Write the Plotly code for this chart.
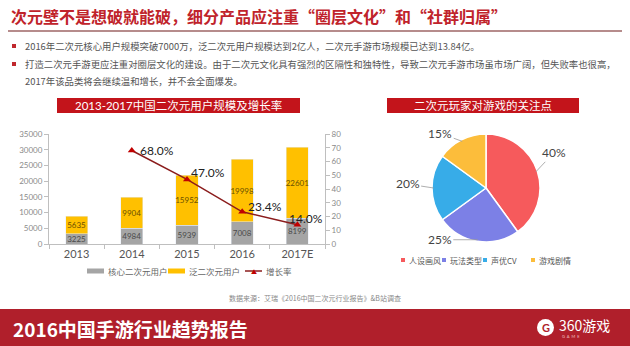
import math
import plotly.graph_objects as go

W, H = 630, 346

years = ["2013", "2014", "2015", "2016", "2017E"]
core_users = [3225, 4984, 5939, 7008, 8199]
pan_users = [5635, 9904, 15952, 19998, 22601]
growth_years = ["2014", "2015", "2016", "2017E"]
growth_rate = [68.0, 47.0, 23.4, 14.0]
growth_labels = ["68.0%", "47.0%", "23.4%", "14.0%"]
series_names = ["核心二次元用户", "泛二次元用户", "增长率"]
series_colors = ["#A5A5A5", "#FFC000", "#8B1C1C"]

pie_labels = ["人设画风", "玩法类型", "声优CV", "游戏剧情"]
pie_values = [40, 25, 20, 15]
pie_colors = ["#F65A5C", "#7C80E6", "#37ACE8", "#FCBD3B"]

y_left_ticks = [0, 5000, 10000, 15000, 20000, 25000, 30000, 35000]
y_right_ticks = [0, 10, 20, 30, 40, 50, 60, 70, 80]

FONT = "Lato, 'Noto Sans CJK SC', sans-serif"
CJK = "'Noto Sans CJK SC', sans-serif"


def px(x):
    return x / W


def py(y):
    return 1 - y / H


def note(text, x, y, size, color, family=CJK, xanchor="left", yanchor="middle"):
    return dict(text=text, x=px(x), y=py(y), xref="paper", yref="paper",
                xanchor=xanchor, yanchor=yanchor, showarrow=False,
                font=dict(size=size, color=color, family=family))


# pie geometry (pixels)
PIE_CX, PIE_CY, PIE_R = 486, 188, 54

fig = go.Figure()

fig.add_trace(go.Bar(
    x=years, y=core_users, name=series_names[0],
    marker=dict(color=series_colors[0]),
    text=[str(v) for v in core_users], textposition="inside", textangle=0,
    insidetextanchor="middle", constraintext="none",
    textfont=dict(size=8, color="#4a4a4a", family=FONT),
    showlegend=False,
))
fig.add_trace(go.Bar(
    x=years, y=pan_users, name=series_names[1],
    marker=dict(color=series_colors[1]),
    text=[str(v) for v in pan_users], textposition="inside", textangle=0,
    insidetextanchor="middle", constraintext="none",
    textfont=dict(size=8, color="#6b5000", family=FONT),
    showlegend=False,
))
fig.add_trace(go.Scatter(
    x=growth_years, y=growth_rate, name=series_names[2], yaxis="y2",
    mode="lines+markers",
    line=dict(color=series_colors[2], width=1.5),
    marker=dict(symbol="triangle-up", size=7, color="#C00000"),
    showlegend=False,
))

fig.add_trace(go.Pie(
    labels=pie_labels, values=pie_values, sort=False,
    direction="clockwise", rotation=0,
    marker=dict(colors=pie_colors, line=dict(color="white", width=1.5)),
    textinfo="none",
    domain=dict(x=[px(PIE_CX - PIE_R), px(PIE_CX + PIE_R)],
                y=[py(PIE_CY + PIE_R), py(PIE_CY - PIE_R)]),
    showlegend=False,
))

shapes = []
annotations = []

# growth-rate labels attached to the data points (category index on x)
label_dx = [6, 2, 4, -10]
label_dy = [0, 7, 5, 6]
for i, (gx, gy) in enumerate(zip(growth_years, growth_rate)):
    annotations.append(dict(text=growth_labels[i], x=years.index(gx), y=gy, xref="x", yref="y2",
                            xanchor="left", yanchor="middle", showarrow=False,
                            xshift=label_dx[i], yshift=label_dy[i],
                            font=dict(size=12, color="#222222", family=FONT)))

# pie percentage labels with leader lines (anchored at slice mid-angles)
pie_ax = [18, -38, -26, -22]
pie_ay = [-19, 0, -4, -8]
total = sum(pie_values)
cum = 0
for i, v in enumerate(pie_values):
    mid = (cum + v / 2) / total * 2 * math.pi
    cum += v
    ex = PIE_CX + PIE_R * 0.97 * math.sin(mid)
    ey = PIE_CY - PIE_R * 0.97 * math.cos(mid)
    annotations.append(dict(text=f"{v}%", x=px(ex), y=py(ey), xref="paper", yref="paper",
                            showarrow=True, arrowhead=0, arrowwidth=0.8, arrowcolor="#999999",
                            ax=pie_ax[i], ay=pie_ay[i],
                            font=dict(size=12, color="#444444", family=FONT)))

# title underline
shapes.append(dict(type="line", xref="paper", yref="paper",
                   x0=px(8), x1=px(622), y0=py(31), y1=py(31),
                   line=dict(color="#6E1A1A", width=1.2)))
# bullets
for yb in [46, 64]:
    shapes.append(dict(type="rect", xref="paper", yref="paper",
                       x0=px(12), x1=px(16), y0=py(yb + 2), y1=py(yb - 2),
                       fillcolor="#C0282D", line=dict(width=0)))
# chart title boxes
for x0, x1 in [(57, 300), (387, 579)]:
    shapes.append(dict(type="rect", xref="paper", yref="paper",
                       x0=px(x0), x1=px(x1), y0=py(113), y1=py(98),
                       fillcolor="#C3141B", line=dict(width=0)))
# footer band
shapes.append(dict(type="rect", xref="paper", yref="paper",
                   x0=0, x1=1, y0=0, y1=py(309),
                   fillcolor="#B01F2B", line=dict(width=0), layer="below"))
# logo circle
shapes.append(dict(type="circle", xref="paper", yref="paper",
                   x0=px(537), x1=px(554), y0=py(336), y1=py(319),
                   fillcolor="white", line=dict(width=0)))

# left legend (keys + names from series lists)
leg_y = 271
leg_x = [87, 168, 245]
for i, name in enumerate(series_names):
    x0 = leg_x[i]
    if i < 2:
        shapes.append(dict(type="rect", xref="paper", yref="paper",
                           x0=px(x0), x1=px(x0 + 17), y0=py(leg_y + 2.5), y1=py(leg_y - 2.5),
                           fillcolor=series_colors[i], line=dict(width=0)))
    else:
        shapes.append(dict(type="line", xref="paper", yref="paper",
                           x0=px(x0), x1=px(x0 + 17), y0=py(leg_y), y1=py(leg_y),
                           line=dict(color=series_colors[i], width=1.5)))
        annotations.append(note("▲", x0 + 8.5, leg_y, 6, "#C00000", FONT, xanchor="center"))
    annotations.append(note(name, x0 + 19, leg_y, 8.5, "#666666"))

# pie legend
pleg_y = 260
pleg_x = [401, 442, 483, 531]
for i, lab in enumerate(pie_labels):
    x0 = pleg_x[i]
    shapes.append(dict(type="rect", xref="paper", yref="paper",
                       x0=px(x0), x1=px(x0 + 4), y0=py(pleg_y + 2), y1=py(pleg_y - 2),
                       fillcolor=pie_colors[i], line=dict(width=0)))
    annotations.append(note(lab, x0 + 5.5, pleg_y, 8, "#555555"))

annotations.append(note("<b>次元壁不是想破就能破，细分产品应注重“圈层文化”和“社群归属”</b>",
                        9, 16, 16, "#C0232B"))
bullet_lines = [
    ("2016年二次元核心用户规模突破7000万，泛二次元用户规模达到2亿人，二次元手游市场规模已达到13.84亿。", 46),
    ("打造二次元手游更应注重对圈层文化的建设。由于二次元文化具有强烈的区隔性和独特性，导致二次元手游市场虽市场广阔，但失败率也很高，", 64),
    ("2017年该品类将会继续温和增长，并不会全面爆发。", 81),
]
for t, yy in bullet_lines:
    annotations.append(note(t, 23, yy, 9.4, "#555555"))
annotations.append(note("2013-2017中国二次元用户规模及增长率", 178.5, 105.5, 11.5, "white",
                        FONT, xanchor="center"))
annotations.append(note("二次元玩家对游戏的关注点", 483, 105.5, 11.5, "white", CJK, xanchor="center"))
annotations.append(note("数据来源：艾瑞《2016中国二次元行业报告》&B站调查", 315, 298, 7, "#888888",
                        xanchor="center"))
annotations.append(note("<b>2016中国手游行业趋势报告</b>", 11, 328, 19, "white"))
annotations.append(note("<b>G</b>", 545.5, 327.5, 11, "#B01F2B", FONT, xanchor="center"))
annotations.append(note("360游戏", 557, 325, 14, "white"))
annotations.append(note("G  A  M  E", 560, 336, 4, "#f0c0c0", FONT))

fig.update_layout(
    width=W, height=H, margin=dict(l=0, r=0, t=0, b=0, autoexpand=False),
    paper_bgcolor="white", plot_bgcolor="white",
    barmode="stack", bargap=0.6, showlegend=False,
    font=dict(family=FONT, color="#666666"),
    xaxis=dict(type="category", categoryorder="array", categoryarray=years,
               range=[-0.5, len(years) - 0.5],
               domain=[px(49), px(325)], showline=True, linecolor="#BFBFBF",
               ticks="outside", tickson="boundaries", ticklen=4, tickcolor="#BFBFBF",
               tickfont=dict(size=11, color="#555555", family=FONT), tickangle=0,
               showgrid=False, fixedrange=True),
    yaxis=dict(domain=[py(244), py(134)], range=[0, 35000], tickvals=y_left_ticks,
               tickformat="d",
               showline=True, linecolor="#BFBFBF", ticks="outside", ticklen=4,
               tickcolor="#BFBFBF", showgrid=False, zeroline=False,
               tickfont=dict(size=8, color="#8a8a8a", family=FONT)),
    yaxis2=dict(overlaying="y", side="right", anchor="x", range=[0, 80],
                tickvals=y_right_ticks, ticksuffix="%",
                showline=True, linecolor="#BFBFBF", ticks="outside", ticklen=4,
                tickcolor="#BFBFBF", showgrid=False, zeroline=False,
                tickfont=dict(size=8, color="#8a8a8a", family=FONT)),
    shapes=shapes, annotations=annotations,
)

fig.write_html("out.html")
